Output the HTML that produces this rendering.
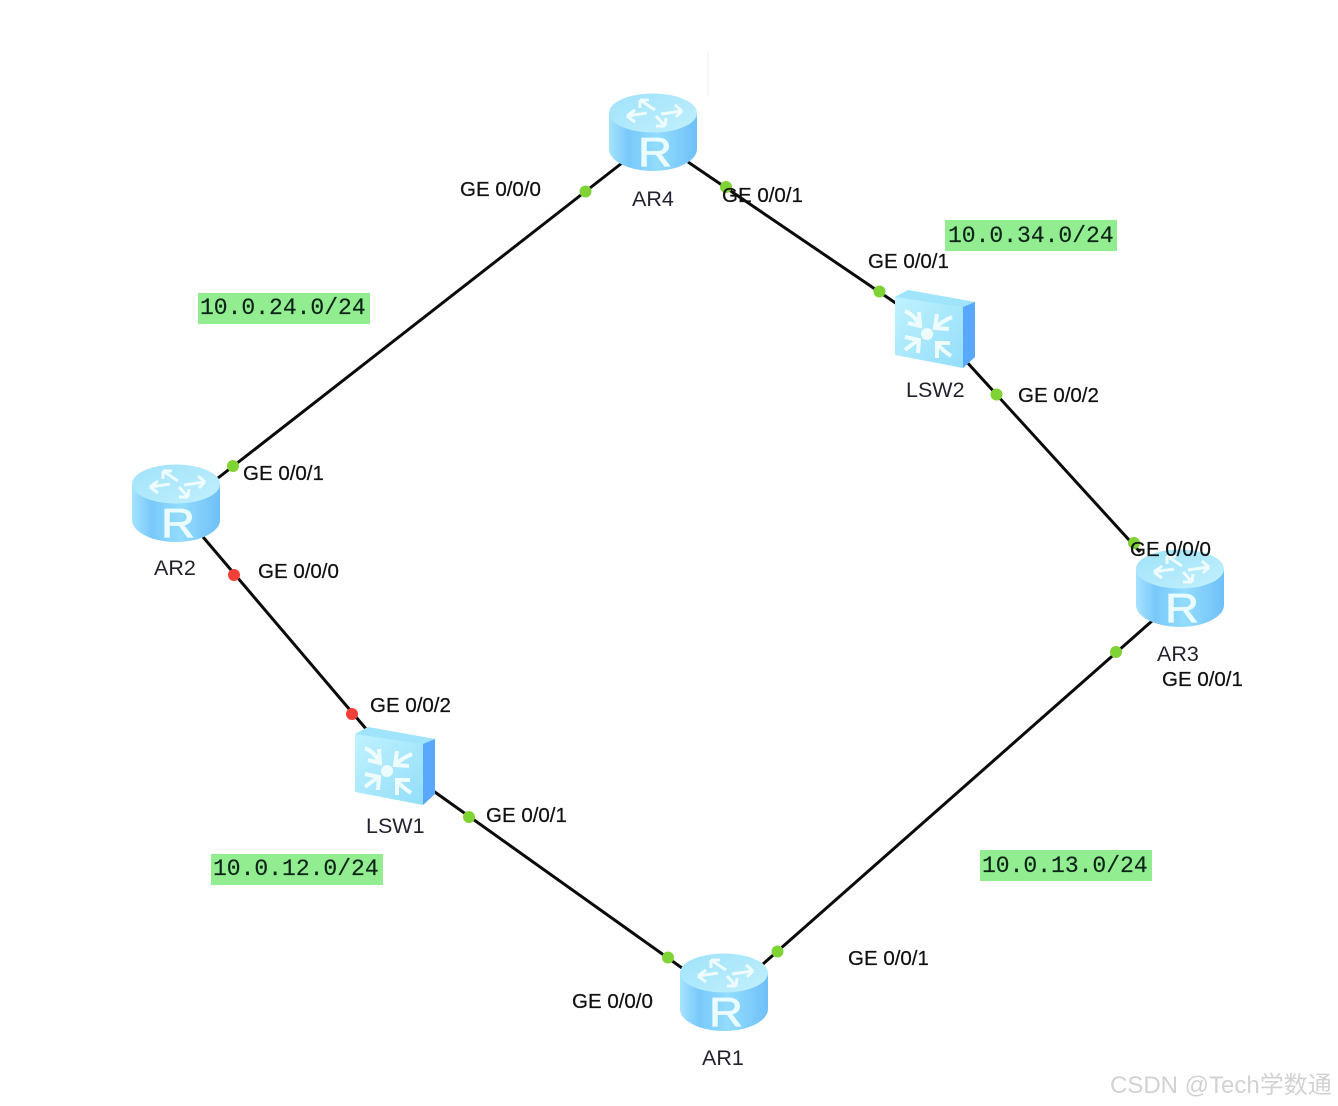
<!DOCTYPE html>
<html><head><meta charset="utf-8"><style>
html,body{margin:0;padding:0;background:#fff;width:1338px;height:1106px;overflow:hidden}
svg{display:block}
.l{font-family:"Liberation Sans",sans-serif;font-size:20.5px;fill:#111;stroke:#111;stroke-width:.25px}
.n{font-family:"Liberation Sans",sans-serif;font-size:21.500px;fill:#22222e}
.m{font-family:"Liberation Mono",monospace;font-size:23px;fill:#0c2418;stroke:#0c2418;stroke-width:.15px}
.r{font-family:"Liberation Sans",sans-serif;font-size:41px;fill:#eafcff;stroke:#eafcff;stroke-width:.8px}
</style></head><body>
<svg width="1338" height="1106" viewBox="0 0 1338 1106" xmlns="http://www.w3.org/2000/svg">
<defs>
<linearGradient id="rg" x1="0" x2="1" y1="0" y2="0">
<stop offset="0" stop-color="#a6e3ff"/><stop offset=".22" stop-color="#78c8fa"/><stop offset=".55" stop-color="#93dcfd"/><stop offset="1" stop-color="#6fc0f8"/>
</linearGradient>
<linearGradient id="rt" x1="0" x2="1" y1="0" y2="1">
<stop offset="0" stop-color="#9fe2fb"/><stop offset="1" stop-color="#c2f0fd"/>
</linearGradient>
<linearGradient id="sf" x1="0" x2="1" y1="0" y2="1">
<stop offset="0" stop-color="#c2f3fe"/><stop offset="1" stop-color="#8fdcfa"/>
</linearGradient>
<g id="router">
<path d="M0 20V56C0 68 20 78 44 78S88 68 88 56V20Z" fill="url(#rg)"/>
<ellipse cx="44" cy="20" rx="44" ry="19.500" fill="url(#rt)"/>
<g fill="none" stroke="#eefcff" stroke-width="3">
<path d="M31 7L46 17M31 7h9M31 7v8"/>
<path d="M73 18L52 21M73 18l-7 -6M73 18l-6 6"/>
<path d="M18 23L38 20M18 23l8 -6M18 23l8 6"/>
<path d="M56 33L47 23M56 33l1 -8M56 33l-9 0"/>
</g>
</g>
<g id="switch">
<path d="M0 7L13 0L80 12V67L68 78L0 65Z" fill="url(#sf)"/>
<path d="M0 7L13 0L80 12L68 17Z" fill="#9fe4fb"/>
<path d="M68 17L80 12V67L68 78Z" fill="#5aa8fb"/>
<circle cx="32" cy="44" r="6" fill="#eefcff"/>
<g fill="none" stroke="#eefcff" stroke-width="4">
<path d="M10 21C17 24 22 30 25 36M13 33L25 36L24 22"/>
<path d="M57 27C50 30 44 34 40 38M42 24L40 38L54 39"/>
<path d="M10 60C15 56 20 52 24 50M10 47L24 50L23 63"/>
<path d="M56 66C50 62 45 58 42 53M42 68V53L55 53"/>
</g>
</g>
</defs>
<rect width="1338" height="1106" fill="#fff"/>
<path d="M708 52V96" stroke="#f1f1f1" stroke-width="1"/>
<g stroke="#0b0b0b" stroke-width="3" fill="none">
<line x1="622" y1="163" x2="218" y2="478"/>
<line x1="688" y1="162" x2="897" y2="304"/>
<line x1="965" y1="360" x2="1140" y2="552"/>
<line x1="1152" y1="621" x2="763" y2="964"/>
<line x1="203" y1="537" x2="367" y2="730"/>
<line x1="432" y1="790" x2="682" y2="968"/>
</g>
<use href="#router" x="609" y="93"/><text class="r" x="638" y="166" textLength="34" lengthAdjust="spacingAndGlyphs">R</text>
<use href="#router" x="132" y="464"/><text class="r" x="161" y="537" textLength="34" lengthAdjust="spacingAndGlyphs">R</text>
<use href="#router" x="1136" y="549"/><text class="r" x="1165" y="622" textLength="34" lengthAdjust="spacingAndGlyphs">R</text>
<use href="#router" x="680" y="953"/><text class="r" x="709" y="1026" textLength="34" lengthAdjust="spacingAndGlyphs">R</text>
<use href="#switch" x="895" y="290"/>
<use href="#switch" x="355" y="727"/>
<g fill="#7fd334">
<circle cx="585.500" cy="191.500" r="6"/>
<circle cx="726" cy="187" r="6"/>
<circle cx="879.500" cy="291.500" r="6"/>
<circle cx="996.500" cy="394.500" r="6"/>
<circle cx="1134" cy="543" r="6"/>
<circle cx="1116" cy="652" r="6"/>
<circle cx="777.500" cy="951.500" r="6"/>
<circle cx="668" cy="957.500" r="6"/>
<circle cx="469" cy="817" r="6"/>
<circle cx="233" cy="466" r="6"/>
</g>
<g fill="#f5403a">
<circle cx="234" cy="575" r="6"/>
<circle cx="352" cy="714" r="6"/>
</g>
<text class="l" x="460" y="196">GE 0/0/0</text>
<text class="l" x="722" y="202">GE 0/0/1</text>
<text class="l" x="868" y="268">GE 0/0/1</text>
<text class="l" x="1018" y="402">GE 0/0/2</text>
<text class="l" x="1130" y="556">GE 0/0/0</text>
<text class="l" x="1162" y="686">GE 0/0/1</text>
<text class="l" x="848" y="965">GE 0/0/1</text>
<text class="l" x="572" y="1008">GE 0/0/0</text>
<text class="l" x="486" y="822">GE 0/0/1</text>
<text class="l" x="370" y="712">GE 0/0/2</text>
<text class="l" x="258" y="578">GE 0/0/0</text>
<text class="l" x="243" y="480">GE 0/0/1</text>
<text class="n" x="632" y="206">AR4</text>
<text class="n" x="154" y="575">AR2</text>
<text class="n" x="1157" y="661">AR3</text>
<text class="n" x="702" y="1065">AR1</text>
<text class="n" x="906" y="397">LSW2</text>
<text class="n" x="366" y="833">LSW1</text>
<g fill="#92ec90">
<rect x="945" y="220" width="172" height="31"/>
<rect x="198" y="293" width="172" height="31"/>
<rect x="211" y="854" width="172" height="31"/>
<rect x="980" y="850" width="172" height="31"/>
</g>
<text class="m" x="948" y="242">10.0.34.0/24</text>
<text class="m" x="200" y="314">10.0.24.0/24</text>
<text class="m" x="213" y="875">10.0.12.0/24</text>
<text class="m" x="982" y="872">10.0.13.0/24</text>
<text x="1110" y="1093" font-family="'Liberation Sans','Noto Sans CJK SC',sans-serif" font-size="24" fill="#d2d2d2">CSDN @Tech学数通</text>
</svg>
</body></html>
